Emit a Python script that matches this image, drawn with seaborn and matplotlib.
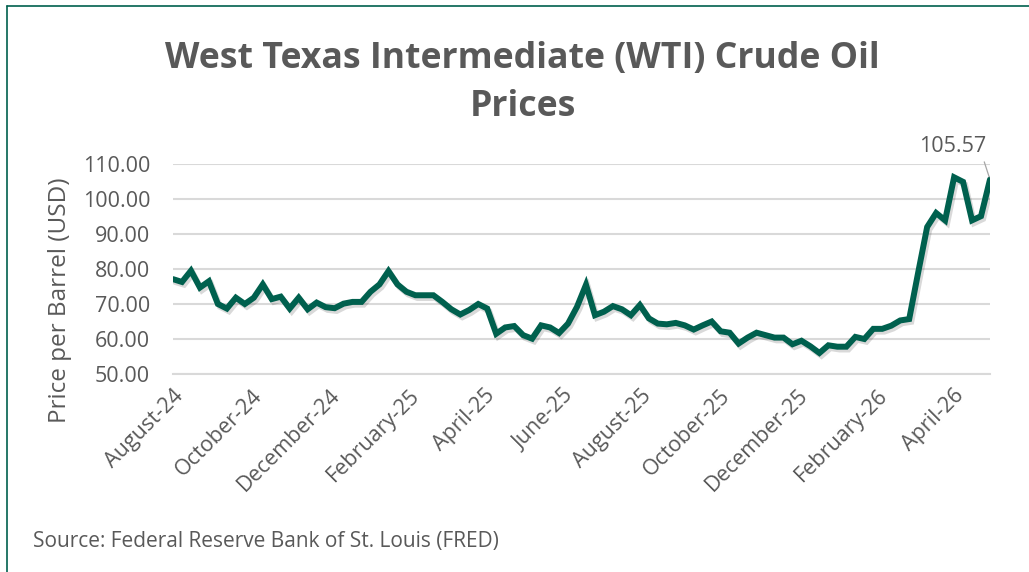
import pandas as pd
import matplotlib
matplotlib.use("Agg")
import matplotlib.pyplot as plt
import matplotlib.dates as mdates
import matplotlib.patheffects as pe
from matplotlib.lines import Line2D
from matplotlib.ticker import FormatStrFormatter, MultipleLocator
import seaborn as sns

# weekly WTI spot price, weeks ending Friday
start_date = "2024-08-02"
prices = [
    77.1, 76.3, 79.5, 74.7, 76.5, 70.0, 68.7, 71.8, 70.0, 71.8,
    75.6, 71.4, 72.1, 68.7, 71.8, 68.5, 70.4, 69.1, 68.8, 70.1,
    70.6, 70.6, 73.5, 75.6, 79.4, 75.6, 73.5, 72.5, 72.5, 72.5,
    70.6, 68.5, 67.0, 68.3, 70.0, 68.7, 61.5, 63.3, 63.7, 61.1,
    60.1, 63.9, 63.3, 61.7, 64.4, 69.2, 75.5, 66.8, 67.8, 69.4,
    68.5, 66.8, 69.7, 65.9, 64.4, 64.2, 64.6, 63.9, 62.7, 63.9,
    65.0, 62.2, 61.8, 58.7, 60.4, 61.8, 61.1, 60.4, 60.4, 58.5,
    59.5, 57.9, 56.0, 58.2, 57.8, 57.8, 60.6, 60.0, 62.9, 62.9,
    63.8, 65.3, 65.7, 79.0, 92.0, 96.0, 93.9, 106.2, 104.9, 93.9,
    95.1, 105.57,
]
dates = pd.date_range(start_date, periods=len(prices), freq="7D")
df = pd.DataFrame({"date": dates, "price": prices})

title = "West Texas Intermediate (WTI) Crude Oil\nPrices"
ylabel = "Price per Barrel (USD)"
source = "Source: Federal Reserve Bank of St. Louis (FRED)"

green = "#00604E"
gray_txt = "#595959"
grid_col = "#D9D9D9"

sns.set_style("white")
plt.rcParams["font.family"] = ["Open Sans", "DejaVu Sans"]

fig = plt.figure(figsize=(10.29, 5.72), dpi=100)
ax = fig.add_axes([173 / 1029, 1 - 374 / 572, (990 - 173) / 1029, (374 - 164) / 572])

sns.lineplot(data=df, x="date", y="price", ax=ax, color=green, linewidth=4.3,
             solid_joinstyle="miter",
             path_effects=[pe.SimpleLineShadow(offset=(1.5, -2), alpha=0.15, shadow_color="black"),
                           pe.Normal()])

ax.set_xlim(dates[0], dates[-1])
ax.set_ylim(50, 110)
ax.yaxis.set_major_locator(MultipleLocator(10))
ax.yaxis.set_major_formatter(FormatStrFormatter("%.2f"))
ax.xaxis.set_major_locator(mdates.MonthLocator(bymonth=[2, 4, 6, 8, 10, 12], bymonthday=2))
ax.xaxis.set_major_formatter(mdates.DateFormatter("%B-%y"))

ax.grid(axis="y", color=grid_col, linewidth=1.5)
ax.grid(axis="x", visible=False)
for side in ["top", "right", "left"]:
    ax.spines[side].set_visible(False)
ax.spines["bottom"].set_color(grid_col)
ax.spines["bottom"].set_linewidth(1.5)

ax.tick_params(axis="y", length=0, pad=16.5, labelsize=15.5, labelcolor=gray_txt)
ax.tick_params(axis="x", direction="out", length=6, width=1.5, color=grid_col,
               labelsize=15.5, labelcolor=gray_txt, pad=2)
for lbl in ax.get_xticklabels():
    lbl.set_rotation(45)
    lbl.set_ha("right")
    lbl.set_rotation_mode("anchor")

ax.set_xlabel("")
ax.set_ylabel(ylabel, fontsize=17.5, color=gray_txt)
# axis title sits lower than the plot centre, as in the source chart
ax.yaxis.set_label_coords(-0.124, 0.35)

ax.annotate(f"{prices[-1]:.2f}", xy=(dates[-1], prices[-1]), xytext=(-27, 16),
            textcoords="offset points", ha="center", va="bottom", fontsize=15.5,
            color=gray_txt,
            arrowprops=dict(arrowstyle="-", color="#A6A6A6", lw=0.9,
                            relpos=(0.95, 0), shrinkA=1, shrinkB=2))

fig.text(0.508, 0.855, title, ha="center", va="center", fontsize=25.7,
         fontweight="bold", color=gray_txt, linespacing=1.45)
fig.text(33 / 1029, 1 - 541 / 572, source, ha="left", va="center",
         fontsize=15, color=gray_txt)

# chart frame (top and left edges visible)
fig.add_artist(Line2D([7 / 1029, 1], [1 - 6 / 572, 1 - 6 / 572], color=green, lw=1.2))
fig.add_artist(Line2D([7 / 1029, 7 / 1029], [0, 1 - 6 / 572], color=green, lw=1.2))

fig.savefig("out.png", dpi=100)
